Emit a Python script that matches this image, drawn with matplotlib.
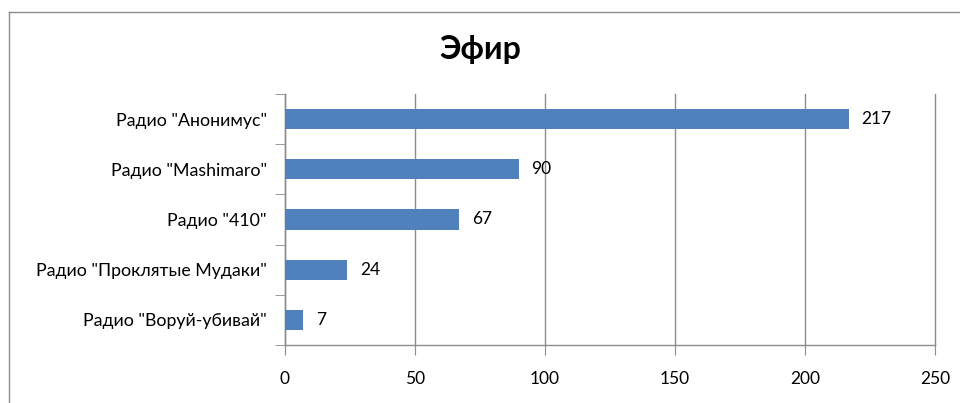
import matplotlib
matplotlib.use("Agg")
import matplotlib.pyplot as plt
from matplotlib.lines import Line2D

categories = ['Радио "Анонимус"', 'Радио "Mashimaro"', 'Радио "410"',
              'Радио "Проклятые Мудаки"', 'Радио "Воруй-убивай"']
values = [217, 90, 67, 24, 7]
xticks = [0, 50, 100, 150, 200, 250]
title = "Эфир"

plt.rcParams['font.family'] = ['Lato', 'DejaVu Sans']

fig = plt.figure(figsize=(9.6, 4.03), dpi=100)
ax = fig.add_axes([285/960, (403-345)/403, 650/960, (345-94)/403])

ypos = list(range(len(categories)))[::-1]
bar_color = '#4F81BD'
ax.barh(ypos, values, height=0.4, color=bar_color, zorder=3)
for y, v in zip(ypos, values):
    ax.annotate(str(v), (v, y), xytext=(9, 0), textcoords='offset points',
                va='center', ha='left', fontsize=12.5, color='black')

ax.set_xlim(0, 250)
ax.set_ylim(-0.5, len(categories) - 0.5)
ax.set_xticks(xticks)
ax.set_xticklabels([str(t) for t in xticks], fontsize=12.5)
ax.set_yticks(ypos)
ax.set_yticklabels(categories, fontsize=12.8)
ax.set_yticks([i - 0.5 for i in range(len(categories) + 1)], minor=True)

gcol = '#8c8c8c'
ax.grid(axis='x', color=gcol, linewidth=1, zorder=0)
for gl in ax.xaxis.get_gridlines():
    gl.set_clip_on(False)
for s in ['top', 'right']:
    ax.spines[s].set_visible(False)
for s in ['left', 'bottom']:
    ax.spines[s].set_color(gcol)
    ax.spines[s].set_linewidth(1)
ax.tick_params(axis='x', which='major', length=7, color=gcol, pad=12)
ax.tick_params(axis='y', which='major', length=0, pad=13)
ax.tick_params(axis='y', which='minor', length=7, color=gcol)

fig.text(0.5, (403-50)/403, title, ha='center', va='center',
         fontsize=23, fontweight='bold')

# outer chart border (cropped)
fig.add_artist(Line2D([8.5/960, 8.5/960], [0, (403-11.5)/403],
                      transform=fig.transFigure, color='#8c8c8c', lw=1))
fig.add_artist(Line2D([8.5/960, 1], [(403-11.5)/403, (403-11.5)/403],
                      transform=fig.transFigure, color='#8c8c8c', lw=1))

fig.savefig("out.png", dpi=100)
